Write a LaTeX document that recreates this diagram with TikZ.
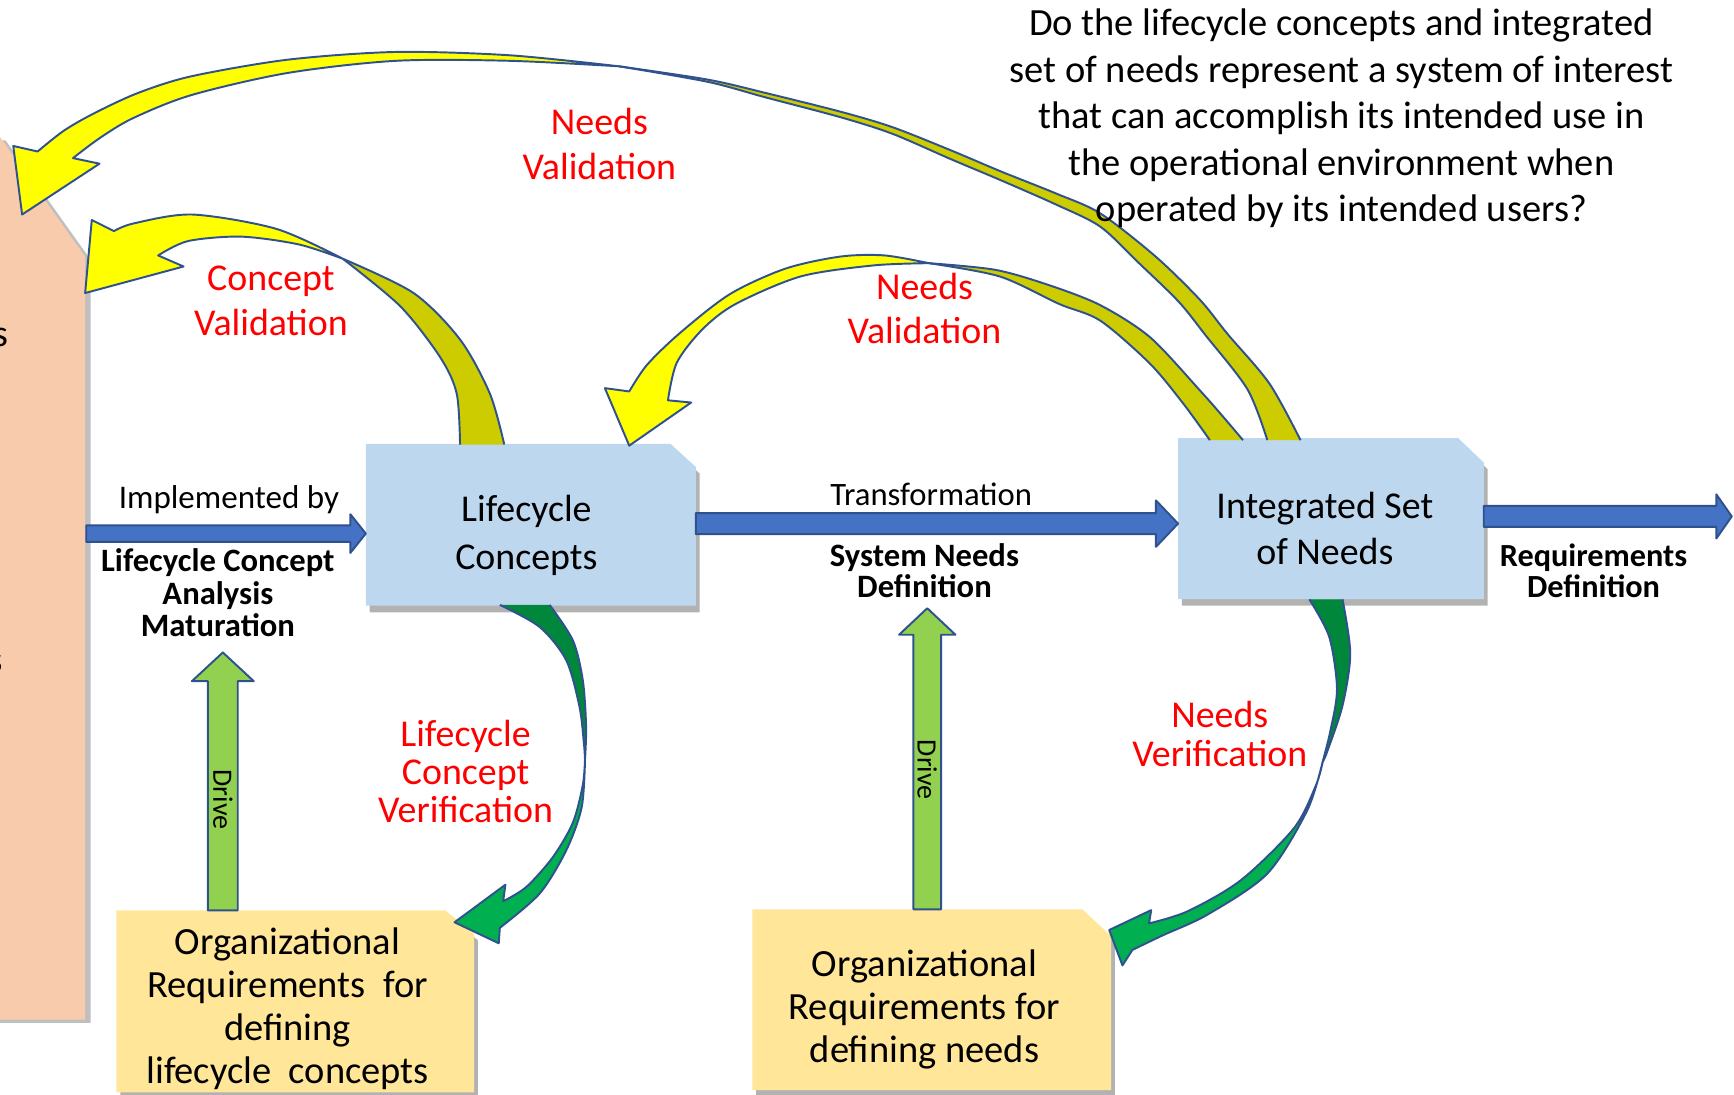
\documentclass[tikz,border=0pt]{standalone}
\usepackage{fontspec}
\setmainfont{Carlito}
\usetikzlibrary{calc,shadows}

\definecolor{panelsalmon}{HTML}{F8CBAD}
\definecolor{boxblue}{HTML}{BDD7EE}
\definecolor{boxyellow}{HTML}{FFE699}
\definecolor{flowblue}{HTML}{4472C4}
\definecolor{edgeblue}{HTML}{2F528F}
\definecolor{drivegreen}{HTML}{92D050}
\definecolor{valfront}{HTML}{FFFF00}
\definecolor{valback}{HTML}{CCCC00}
\definecolor{verfront}{HTML}{00B050}
\definecolor{verback}{HTML}{00873C}
\definecolor{labelred}{HTML}{FF0000}

\tikzset{
  softshadow/.style={drop shadow={shadow xshift=0.35mm, shadow yshift=-0.6mm, opacity=0.3, fill=black}},
  panel/.style={fill=panelsalmon, drop shadow={shadow xshift=0.5mm, shadow yshift=-0.3mm, opacity=0.25, fill=black}},
  boxframe/.style={rectangle, inner sep=0pt},
  edgeline/.style={draw=edgeblue, line width=0.5pt, line join=round},
  flowarrow/.style={fill=flowblue, edgeline},
  drivearrow/.style={fill=drivegreen, edgeline},
  valfrontst/.style={fill=valfront, edgeline},
  verfrontst/.style={fill=verfront, edgeline},
  txt/.style={inner sep=0pt, align=center, text=black},
  boxtxt/.style={txt, font=\fontsize{9.75}{12.2}\selectfont},
  boldlbl/.style={txt, font=\bfseries\fontsize{8.4}{8.3}\selectfont},
  redlbl/.style={inner sep=0pt, align=center, text=labelred},
}

% box with its upper right corner cut off: fill colour, node, cut width, cut height
\newcommand{\snipfill}[4]{%
  \fill[#1, softshadow] (#2.south west) -- (#2.north west) -- ([xshift=-#3]#2.north east)
    -- ([yshift=-#4]#2.north east) -- (#2.south east) -- cycle;}
% horizontal block arrow: style, start, tip, shaft half height, head half height, head length
\newcommand{\flowarrowh}[6]{%
  \path[#1] ($(#2)+(0,-#4)$) -- ($(#3)+(-#6,-#4)$) -- ($(#3)+(-#6,-#5)$) -- (#3)
    -- ($(#3)+(-#6,#5)$) -- ($(#3)+(-#6,#4)$) -- ($(#2)+(0,#4)$) -- cycle;}
% upward block arrow: style, base, tip, shaft half width, head half width, head length
\newcommand{\flowarrowv}[6]{%
  \path[#1] ($(#2)+(-#4,0)$) -- ($(#3)+(-#4,#6)$) -- ($(#3)+(-#5,#6)$) -- (#3)
    -- ($(#3)+(#5,#6)$) -- ($(#3)+(#4,#6)$) -- ($(#2)+(#4,0)$) -- cycle;}
% back face of a twisted ribbon arrow: fill colour, one edge, other edge (reversed)
\newcommand{\ribbonback}[3]{%
  \fill[#1] plot[smooth] coordinates {#2} -- plot[smooth] coordinates {#3} -- cycle;
  \draw[edgeline] plot[smooth] coordinates {#2};
  \draw[edgeline] plot[smooth] coordinates {#3};}

\begin{document}
\begin{tikzpicture}[x=0.1mm,y=-0.1mm]
\useasboundingbox (0,0) rectangle (1568,990);
\clip (0,0) rectangle (1568,990);

% side panel cut by the left edge
\path[panel] (-40,124) -- (0,124) -- (77,232) -- (77,922) -- (-40,922) -- cycle;
\node[txt, anchor=east, font=\fontsize{9.75}{12}\selectfont] (frag1) at (8,305) {s};
\node[txt, anchor=east, font=\fontsize{9.75}{12}\selectfont] (frag2) at (3,600) {s};

% boxes
\node[boxframe, minimum width=29.7mm, minimum height=14.5mm] (lc) at (480,474.5) {};
\node[boxframe, minimum width=27.5mm, minimum height=14.4mm] (isn) at (1203.5,469) {};
\node[boxframe, minimum width=32.2mm, minimum height=16.3mm] (org1) at (267,905.5) {};
\node[boxframe, minimum width=32.3mm, minimum height=16.2mm] (org2) at (842.5,904) {};
\snipfill{boxblue}{lc}{2.3mm}{2.1mm}
\snipfill{boxblue}{isn}{2.3mm}{2.2mm}
\snipfill{boxyellow}{org1}{2.6mm}{2.1mm}
\snipfill{boxyellow}{org2}{2.6mm}{2.4mm}

% main flow arrows
\coordinate (panelR) at (78,482.5);
\coordinate (implTip) at (panelR -| lc.west);
\flowarrowh{flowarrow}{panelR}{implTip}{7.5}{17.5}{14}
\coordinate (trY) at (0,473.5);
\coordinate (trS) at (lc.east |- trY);
\coordinate (trE) at (isn.west |- trY);
\flowarrowh{flowarrow}{trS}{trE}{9.5}{21}{20}
\coordinate (rqE) at (1566,467);
\coordinate (rqS) at (isn.east |- rqE);
\flowarrowh{flowarrow}{rqS}{rqE}{9.5}{20}{14}

% drive arrows
\coordinate (d1tip) at (201.5,590);
\coordinate (d1base) at (d1tip |- org1.north);
\flowarrowv{drivearrow}{d1base}{d1tip}{13.5}{28}{26}
\coordinate (d2tip) at (838.5,550);
\coordinate (d2base) at (d2tip |- org2.north);
\flowarrowv{drivearrow}{d2base}{d2tip}{12.5}{25.5}{24}

% long validation arrow: integrated needs back to the side panel
\ribbonback{valback}
  {(560,60) (640,72) (692,84) (760,101) (807,115) (860,136) (905,155) (955,175) (995,193) (1045,232) (1085,271) (1110,302) (1148,347) (1176,398)}
  {(1146,398) (1128,352) (1090,303) (1066,273) (1030,238) (995,205) (955,185) (905,163) (860,144) (807,121) (760,106) (692,88) (640,74) (560,60)}
\filldraw[valfrontst] (34,137) -- (12,132) -- (20,194) -- (90,148) -- (66,143)
  -- plot[smooth] coordinates {(66,143) (90,125) (120,107) (173,86) (260,66) (358,55) (461,55) (560,60)}
  -- plot[smooth] coordinates {(560,60) (461,50) (358,47) (260,54) (173,69) (125,84) (86,102) (58,118) (34,137)}
  -- cycle;

% concept validation arrow
\ribbonback{valback}
  {(310,234) (374,265) (416,307) (443,356) (456,402)}
  {(416,402) (413,356) (398,323) (362,277) (310,234)}
\filldraw[valfrontst] (103,209) -- (83,199) -- (77,265) -- (166,241) -- (143,231)
  -- plot[smooth] coordinates {(143,231) (170,218) (218,214) (270,221) (310,234)}
  -- plot[smooth] coordinates {(310,234) (250,207) (174,194) (121,202) (103,209)}
  -- cycle;

% needs validation arrow: integrated needs back to lifecycle concepts
\ribbonback{valback}
  {(840,238) (900,244) (949,258) (995,276) (1040,305) (1085,353) (1107,378) (1124,398)}
  {(1094,398) (1070,365) (1040,329) (995,290) (958,275) (904,250) (840,238)}
\filldraw[valfrontst] (569,354) -- (547,351) -- (569,403) -- (625,364) -- (604,362)
  -- plot[smooth] coordinates {(604,362) (612,328) (635,298) (665,275) (724,250) (790,240) (840,238)}
  -- plot[smooth] coordinates {(840,238) (800,231) (760,232) (710,243) (660,266) (615,301) (585,330) (569,354)}
  -- cycle;

% lifecycle concept verification arrow
\ribbonback{verback}
  {(497,547) (518,579) (527,615) (530,657) (529,687)}
  {(529,687) (528,672) (524,639) (512,597) (488,567) (452,547)}
\filldraw[verfrontst] (452,839) -- (451,853) -- (411,834) -- (457,800) -- (455,815)
  -- plot[smooth] coordinates {(455,815) (476,802) (500,775) (518,744) (527,710) (529,687)}
  -- plot[smooth] coordinates {(529,687) (526,730) (512,769) (488,808) (452,839)}
  -- cycle;

% needs verification arrow
\ribbonback{verback}
  {(1214,542) (1221,591) (1214,638) (1200,680) (1196,689)}
  {(1196,689) (1203,661) (1209,623) (1202,576) (1184,542)}
\filldraw[verfrontst] (1024,859) -- (1015,873) -- (1003,841) -- (1041,823) -- (1039,835)
  -- plot[smooth] coordinates {(1039,835) (1074,824) (1122,796) (1170,749) (1190,710) (1196,689)}
  -- plot[smooth] coordinates {(1196,689) (1182,733) (1146,790) (1092,827) (1051,846) (1024,859)}
  -- cycle;

% box texts
\node[boxtxt] (lctxt) at (476,484) {Lifecycle\\Concepts};
\node[boxtxt, font=\fontsize{9.75}{11.95}\selectfont] (isntxt) at (1198,478) {Integrated Set\\of Needs};
\node[txt, font=\fontsize{9.9}{11.05}\selectfont] (org1txt) at (260,912)
  {Organizational\\Requirements~~for\\defining\\lifecycle~~concepts};
\node[txt, font=\fontsize{9.9}{11.1}\selectfont] (org2txt) at (836,913)
  {Organizational\\Requirements for\\defining needs};

% flow labels
\node[txt, font=\fontsize{8.5}{10}\selectfont] (impl) at (207,452) {Implemented by};
\node[boldlbl] (lcam) at (197,536) {Lifecycle Concept\\Analysis\\Maturation};
\node[txt, font=\fontsize{8.4}{10}\selectfont] (trans) at (842,447) {Transformation};
\node[boldlbl, font=\bfseries\fontsize{8.4}{8}\selectfont] (snd) at (836,516) {System Needs\\Definition};
\node[boldlbl, font=\bfseries\fontsize{8.3}{8}\selectfont] (rqd) at (1441,516) {Requirements\\Definition};
\node[txt, rotate=-90, font=\fontsize{7.2}{8}\selectfont] (drive1) at (201.5,723) {Drive};
\node[txt, rotate=-90, font=\fontsize{7.2}{8}\selectfont] (drive2) at (838.5,696) {Drive};

% validation and verification labels
\node[redlbl, font=\fontsize{9.75}{11.7}\selectfont] (nv1) at (542,130) {Needs\\Validation};
\node[redlbl, font=\fontsize{9.75}{11.4}\selectfont] (cv) at (245,272) {Concept\\Validation};
\node[redlbl, font=\fontsize{9.75}{11.4}\selectfont] (nv2) at (836,279) {Needs\\Validation};
\node[redlbl, font=\fontsize{9.75}{9.8}\selectfont] (lcv) at (421,698) {Lifecycle\\Concept\\Verification};
\node[redlbl, font=\fontsize{9.75}{10}\selectfont] (nver) at (1103,664) {Needs\\Verification};

% validation question
\node[txt, font=\fontsize{9.9}{11.95}\selectfont] (question) at (1213,107)
  {Do the lifecycle concepts and integrated\\set of needs represent a system of interest\\that can accomplish its intended use in\\the operational environment when\\operated by its intended users?};
\end{tikzpicture}
\end{document}
